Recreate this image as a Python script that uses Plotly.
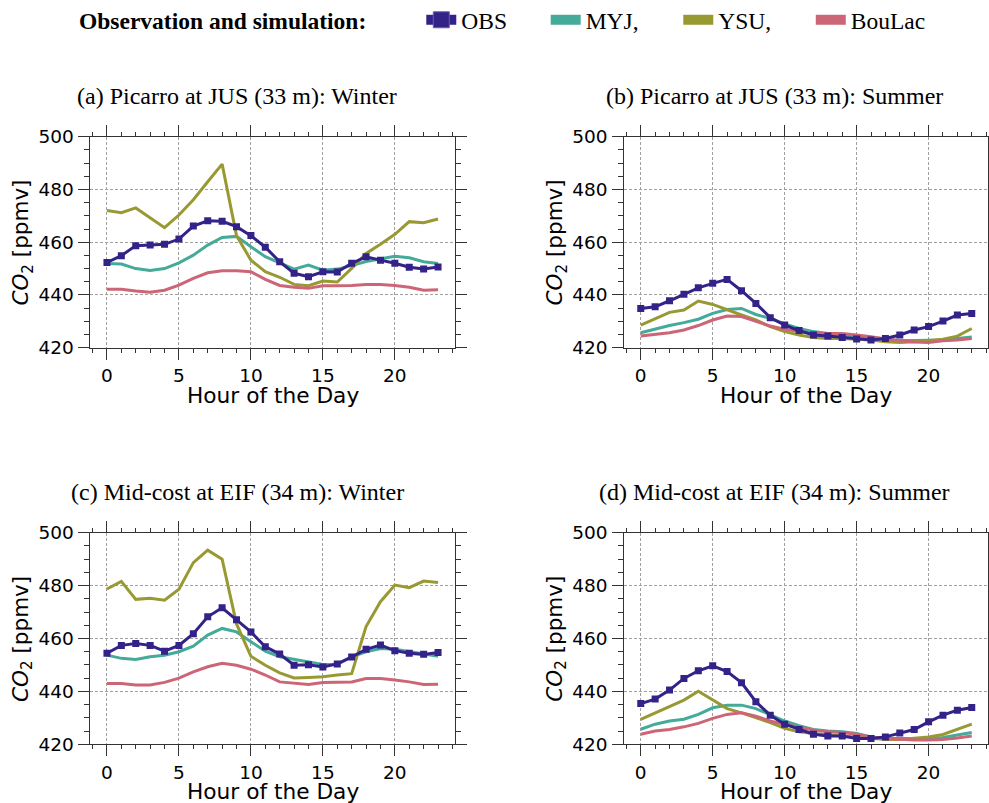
import plotly.graph_objects as go
from plotly.subplots import make_subplots

hours = list(range(24))

# (a) Picarro at JUS (33 m): Winter
a_obs = [452.3, 454.9, 458.7, 458.9, 459.2, 461.2, 466.1, 468.1, 467.9, 465.9, 462.5, 458.1,
         452.6, 448.2, 446.9, 448.8, 448.7, 452.0, 454.5, 453.2, 452.0, 450.5, 449.8, 450.6]
a_myj = [451.9, 451.7, 450.0, 449.3, 450.0, 452.2, 455.1, 458.9, 461.8, 462.2, 458.3, 454.5,
         452.2, 449.8, 451.3, 449.4, 449.8, 451.1, 452.7, 453.8, 454.7, 454.1, 452.6, 451.9]
a_ysu = [472.0, 471.2, 473.0, 469.2, 465.5, 470.3, 476.1, 482.9, 489.6, 462.5, 453.2, 448.8,
         446.7, 444.0, 443.5, 445.3, 444.9, 450.1, 455.7, 459.2, 463.0, 467.8, 467.4, 468.8]
a_boulac = [442.2, 442.2, 441.5, 441.0, 441.8, 443.7, 446.3, 448.4, 449.2, 449.2, 448.8, 445.9,
            443.6, 442.9, 442.5, 443.5, 443.5, 443.6, 444.0, 444.0, 443.6, 442.9, 441.8, 442.0]

# (b) Picarro at JUS (33 m): Summer
b_obs = [434.9, 435.5, 437.8, 440.3, 442.7, 444.4, 445.9, 441.6, 436.8, 431.4, 428.6, 426.5,
         424.8, 424.4, 423.9, 423.3, 422.9, 423.5, 424.8, 426.7, 428.0, 430.1, 432.4, 433.0]
b_myj = [425.7, 427.1, 428.4, 429.5, 430.8, 433.0, 434.5, 434.9, 432.6, 431.1, 429.0, 427.3,
         426.1, 425.4, 424.8, 424.4, 423.9, 423.3, 422.7, 422.7, 422.7, 422.9, 423.5, 424.1]
b_ysu = [428.6, 431.1, 433.4, 434.3, 437.7, 436.4, 434.3, 432.4, 430.5, 428.0, 426.1, 424.8,
         423.9, 423.5, 423.5, 423.2, 422.9, 422.3, 422.0, 422.3, 422.7, 423.2, 424.4, 427.3]
b_boulac = [424.4, 425.0, 425.7, 426.7, 428.4, 430.5, 432.0, 431.8, 430.1, 428.2, 427.0, 426.1,
            425.4, 425.4, 425.4, 424.8, 424.2, 423.3, 422.6, 422.2, 422.0, 422.6, 422.9, 423.5]

# (c) Mid-cost at EIF (34 m): Winter
c_obs = [454.4, 457.4, 458.1, 457.4, 455.2, 457.4, 461.8, 468.2, 471.6, 467.1, 462.5, 456.9,
         454.1, 449.9, 450.1, 449.2, 450.4, 453.0, 455.9, 457.5, 455.4, 454.4, 454.0, 454.7]
c_myj = [453.7, 452.5, 452.1, 453.1, 453.7, 455.0, 457.1, 461.3, 463.8, 462.5, 458.8, 455.2,
         453.1, 452.1, 451.2, 450.2, 450.2, 453.1, 455.0, 456.2, 455.9, 455.0, 454.1, 453.3]
c_ysu = [478.7, 481.6, 474.8, 475.2, 474.5, 478.6, 488.7, 493.4, 490.0, 465.5, 453.3, 449.9,
         447.0, 445.1, 445.3, 445.5, 446.2, 446.7, 464.5, 473.9, 480.2, 479.2, 481.7, 481.2]
c_boulac = [443.0, 443.0, 442.4, 442.4, 443.4, 445.0, 447.4, 449.3, 450.6, 449.9, 448.4, 446.2,
            443.6, 443.0, 442.6, 443.4, 443.5, 443.6, 444.9, 444.9, 444.3, 443.6, 442.6, 442.7]

# (d) Mid-cost at EIF (34 m): Summer
d_obs = [435.4, 437.1, 440.5, 444.9, 447.8, 449.7, 447.5, 443.3, 436.1, 431.0, 427.6, 425.6,
         423.8, 423.1, 423.1, 422.2, 422.2, 422.8, 424.3, 425.6, 428.5, 431.0, 432.9, 433.9]
d_myj = [425.7, 427.6, 428.8, 429.5, 431.3, 433.8, 434.8, 434.8, 433.5, 431.3, 428.8, 427.0,
         425.6, 425.0, 424.7, 424.1, 422.8, 422.2, 422.2, 422.2, 422.2, 422.6, 423.5, 424.5]
d_ysu = [429.4, 431.9, 434.4, 436.7, 440.1, 436.7, 433.5, 431.9, 430.1, 428.2, 426.0, 424.7,
         424.1, 423.5, 423.1, 422.8, 422.2, 421.8, 421.8, 422.2, 422.8, 423.7, 425.6, 427.6]
d_boulac = [423.8, 425.0, 425.6, 426.6, 427.9, 429.8, 431.3, 431.9, 430.6, 428.8, 427.5, 426.4,
            425.4, 424.7, 424.5, 423.8, 422.8, 422.2, 421.8, 421.6, 421.6, 421.8, 422.4, 423.1]

panel_titles = ["(a) Picarro at JUS (33 m): Winter", "(b) Picarro at JUS (33 m): Summer",
                "(c) Mid-cost at EIF (34 m): Winter", "(d) Mid-cost at EIF (34 m): Summer"]
series_names = ["OBS", "MYJ,", "YSU,", "BouLac"]
x_ticks = [0, 5, 10, 15, 20]
y_ticks = [420, 440, 460, 480, 500]
x_label = "Hour of the Day"
y_label = "<i>CO</i><sub>2</sub> [ppmv]"
legend_title = "<b>Observation and simulation:</b>"

panels = [
    (a_obs, a_myj, a_ysu, a_boulac),
    (b_obs, b_myj, b_ysu, b_boulac),
    (c_obs, c_myj, c_ysu, c_boulac),
    (d_obs, d_myj, d_ysu, d_boulac),
]

COL_OBS = "#332288"
COL_MYJ = "#44AA99"
COL_YSU = "#999933"
COL_BOU = "#CC6677"

W, H = 989, 803
SERIF = "Liberation Serif"
SANS = "DejaVu Sans"

fig = make_subplots(rows=2, cols=2)

# pixel geometry of axes boxes
xdoms = [(90.4, 454.6), (624.2, 988.3)]
ydoms = [(136.7, 347.7), (532.7, 744.3)]

for i, (obs, myj, ysu, bou) in enumerate(panels):
    r, c = i // 2 + 1, i % 2 + 1
    for vals, col in [(myj, COL_MYJ), (ysu, COL_YSU), (bou, COL_BOU)]:
        fig.add_trace(go.Scatter(x=hours, y=vals, mode="lines",
                                 line=dict(color=col, width=3), showlegend=False,
                                 hoverinfo="skip"), row=r, col=c)
    fig.add_trace(go.Scatter(x=hours, y=obs, mode="lines+markers",
                             line=dict(color=COL_OBS, width=3),
                             marker=dict(symbol="square", size=7, color=COL_OBS),
                             showlegend=False), row=r, col=c)

# legend entries
legend_widths = [79.4, 87.6, 87.5, 88]
fig.add_trace(go.Scatter(x=[None], y=[None], mode="lines+markers", name=series_names[0],
                         line=dict(color=COL_OBS, width=10), legendwidth=legend_widths[0],
                         marker=dict(symbol="square", size=16, color=COL_OBS,
                                     line=dict(color="#6a5fb0", width=1))), row=1, col=1)
for name, col, lw in zip(series_names[1:], [COL_MYJ, COL_YSU, COL_BOU], legend_widths[1:]):
    fig.add_trace(go.Scatter(x=[None], y=[None], mode="lines", name=name, legendwidth=lw,
                             line=dict(color=col, width=10)), row=1, col=1)

axis_common = dict(showline=True, linecolor="#333", linewidth=1, mirror="ticks",
                   ticks="outside", tickcolor="#333", tickwidth=1, automargin=False,
                   showgrid=True, gridcolor="#a0a0a0", gridwidth=1, griddash="3px,2px",
                   zeroline=False, tickfont=dict(family=SANS, size=18.5, color="black"))

for i in range(4):
    r, c = i // 2, i % 2
    xd = xdoms[c]
    yd = ydoms[r]
    fig.update_xaxes(row=r + 1, col=c + 1, domain=[xd[0] / W, xd[1] / W],
                     range=[-1.15, 24.15], tickvals=x_ticks, ticklen=11,
                     minor=dict(dtick=1, tick0=0, ticks="outside", ticklen=4,
                                tickcolor="#333", showgrid=False),
                     **axis_common)
    fig.update_yaxes(row=r + 1, col=c + 1, domain=[1 - yd[1] / H, 1 - yd[0] / H],
                     range=[420, 500], tickvals=y_ticks, ticklen=11,
                     ticklabelstandoff=1,
                     minor=dict(dtick=5, tick0=420, ticks="outside", ticklen=5,
                                tickcolor="#333", showgrid=False),
                     **axis_common)

annotations = []
title_cx = [237, 774]
for i, t in enumerate(panel_titles):
    r, c = i // 2, i % 2
    ty = 96 + r * 396
    annotations.append(dict(text=t, x=title_cx[c] / W, y=1 - ty / H, xref="paper", yref="paper",
                            xanchor="center", yanchor="middle", showarrow=False,
                            font=dict(family=SERIF, size=24, color="black")))
    xd = xdoms[c]
    yd = ydoms[r]
    annotations.append(dict(text=x_label, x=(xd[0] + xd[1]) / 2 / W, y=1 - (395 + r * 396) / H,
                            xref="paper", yref="paper", xanchor="center", yanchor="middle",
                            showarrow=False, font=dict(family=SANS, size=21.7, color="black")))
    annotations.append(dict(text=y_label, x=(xd[0] - 68) / W, y=1 - (yd[0] + yd[1]) / 2 / H,
                            xref="paper", yref="paper", xanchor="center", yanchor="middle",
                            textangle=-90, showarrow=False,
                            font=dict(family=SANS, size=21.5, color="black")))

fig.update_layout(
    width=W, height=H,
    margin=dict(l=0, r=0, t=0, b=0, autoexpand=False),
    paper_bgcolor="white", plot_bgcolor="white",
    annotations=annotations,
    showlegend=True,
    legend=dict(orientation="h", x=77 / W, xanchor="left", y=1 + 2 / H, yanchor="top",
                title=dict(text=legend_title + "&nbsp;" * 8, side="left",
                           font=dict(family=SERIF, size=23.5, color="black")),
                font=dict(family=SERIF, size=23.5, color="black"),
                bgcolor="rgba(0,0,0,0)"),
)

fig.write_html("out.html")
